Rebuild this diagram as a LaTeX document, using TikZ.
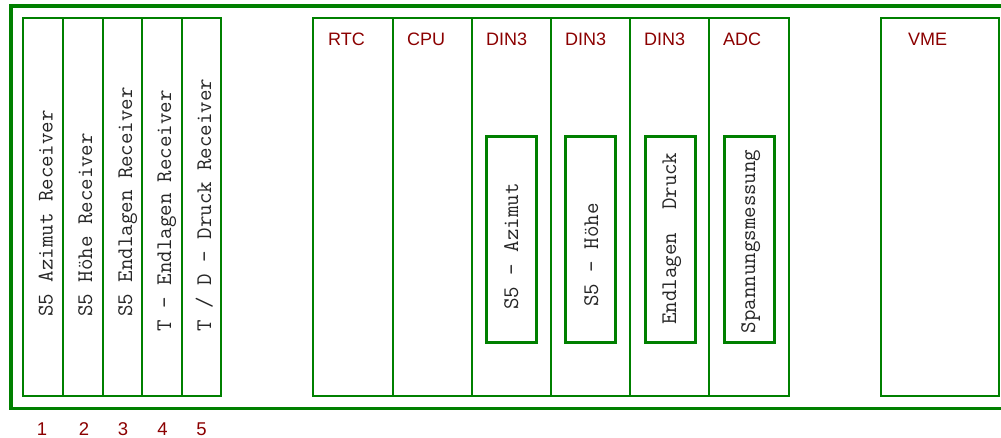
\documentclass[tikz,border=0pt]{standalone}
\usepackage{fontspec}
\setmainfont{Liberation Sans}
\definecolor{slotgreen}{RGB}{0,128,0}
\definecolor{labelred}{RGB}{139,0,0}
\begin{document}
\begin{tikzpicture}[x=1pt,y=-1pt,
  slot/.style={draw=slotgreen,line width=2pt},
  inbox/.style={draw=slotgreen,line width=3pt},
  frame/.style={draw=slotgreen,line width=3.4pt,line join=miter},
  vtext/.style={rotate=90,anchor=base west,inner sep=0pt,font=\ttfamily\fontsize{22.3}{24}\selectfont,text=black!85},
  title/.style={anchor=base west,inner sep=0pt,font=\fontsize{18}{20}\selectfont,text=labelred},
  num/.style={anchor=base,inner sep=0pt,font=\fontsize{18.5}{20}\selectfont,text=labelred}]
\useasboundingbox (0,0) rectangle (1001,437);

% outer rack frame (runs off the right edge)
\draw[frame] (1003,5.8) -- (11,5.8) -- (11,408.3) -- (1003,408.3);

% left receiver slots
\foreach \a/\b in {23.3/63, 63/102.5, 102.5/142, 142/181.5, 181.5/221.3}
  \draw[slot] (\a,18.3) rectangle (\b,395.8);

% middle slots
\foreach \a/\b in {313.3/393, 393/472, 472/551, 551/630, 630/709, 709/788.8}
  \draw[slot] (\a,18.3) rectangle (\b,395.8);

% VME slot
\draw[slot] (880.5,18.3) rectangle (999,395.8);

% inner module boxes
\draw[inbox] (486.5,136.5) rectangle (536.5,342.3);
\draw[inbox] (565.7,136.5) rectangle (615.7,342.3);
\draw[inbox] (645,136.5) rectangle (695,342.3);
\draw[inbox] (724,136.5) rectangle (774,342.3);

% slot titles
\node[title] (rtc)  at (328,45.6) {RTC};
\node[title] (cpu)  at (407,45.6) {CPU};
\node[title] (din1) at (486,45.6) {DIN3};
\node[title] (din2) at (565,45.6) {DIN3};
\node[title] (din3) at (644,45.6) {DIN3};
\node[title] (adc)  at (723,45.6) {ADC};
\node[title] (vme)  at (908,45.6) {VME};

% receiver labels
\node[vtext] (r1) at (52.5,317) {S5 Azimut Receiver};
\node[vtext] (r2) at (92,317) {S5 Höhe Receiver};
\node[vtext] (r3) at (132,317) {S5 Endlagen Receiver};
\node[vtext] (r4) at (171,331.5) {T - Endlagen Receiver};
\node[vtext] (r5) at (211,331.5) {T / D - Druck Receiver};

% module labels
\node[vtext] (m1) at (518,310) {S5 - Azimut};
\node[vtext] (m2) at (598,307) {S5 - Höhe};
\node[vtext] (m3) at (676,325) {Endlagen\ \ Druck};
\node[vtext] (m4) at (755,333.5) {Spannungsmessung};

% slot numbers
\node[num] (n1) at (42,435) {1};
\node[num] (n2) at (84,435) {2};
\node[num] (n3) at (123,435) {3};
\node[num] (n4) at (162.5,435) {4};
\node[num] (n5) at (201.5,435) {5};
\end{tikzpicture}
\end{document}
